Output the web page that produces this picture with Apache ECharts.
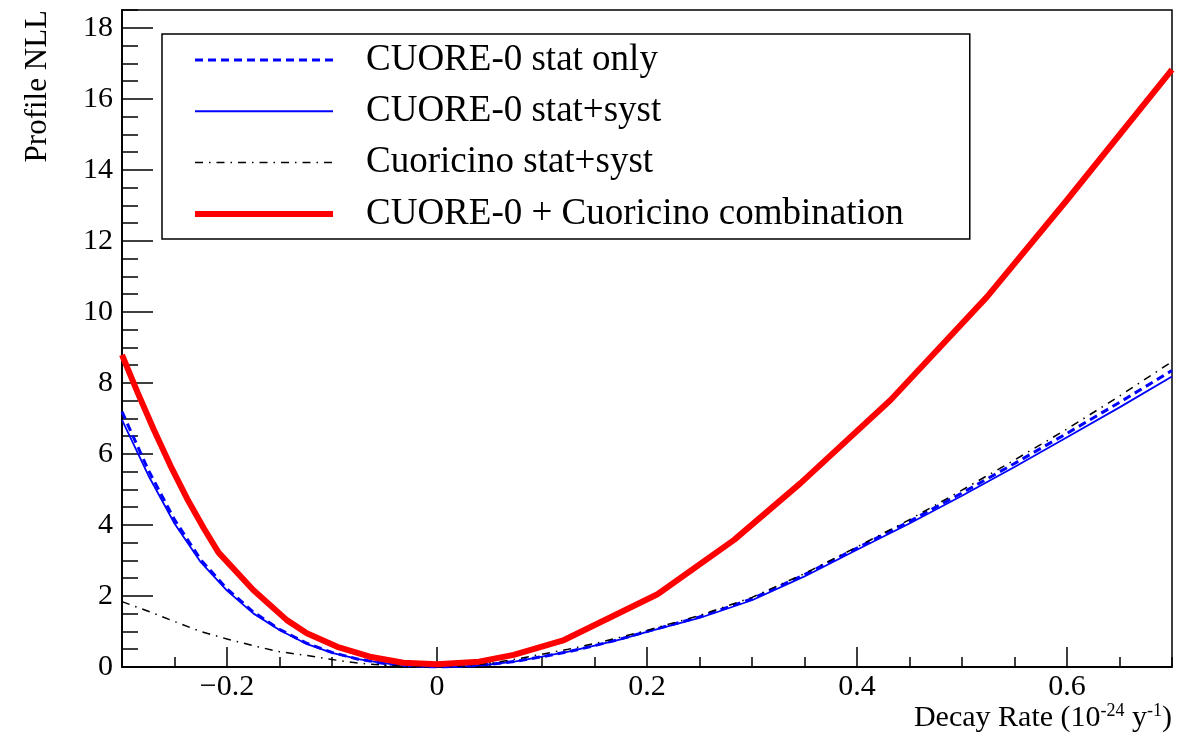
<!DOCTYPE html>
<html><head><meta charset="utf-8">
<script src="https://cdn.jsdelivr.net/npm/echarts@6/dist/echarts.min.js"></script>
<style>html,body{margin:0;padding:0;background:#fff}#c{width:1201px;height:736px}</style>
</head><body><div id="c"></div>
<script>
// ---- data ----
const seriesNames = ['CUORE-0 stat only', 'CUORE-0 stat+syst', 'Cuoricino stat+syst', 'CUORE-0 + Cuoricino combination'];
const xGrid = [-0.3,-0.275,-0.25,-0.225,-0.2,-0.175,-0.15,-0.125,-0.1,-0.075,-0.05,-0.025,0,0.025,0.05,0.075,0.1,0.125,0.15,0.175,0.2,0.25,0.3,0.35,0.4,0.45,0.5,0.55,0.6,0.65,0.7];
const statOnly = [7.19,5.55,4.15,3.02,2.2,1.55,1.06,0.68,0.41,0.22,0.1,0.03,0.0,0.02,0.07,0.16,0.29,0.43,0.6,0.79,1.0,1.41,1.92,2.6,3.35,4.1,4.9,5.73,6.58,7.45,8.35];
const statSyst = [6.96,5.4,4.04,2.95,2.15,1.51,1.04,0.66,0.4,0.22,0.1,0.04,0.0,0.02,0.07,0.16,0.29,0.43,0.6,0.78,0.99,1.38,1.88,2.55,3.3,4.04,4.82,5.63,6.47,7.31,8.18];
const cuoricino = [1.84,1.57,1.28,1.0,0.79,0.6,0.43,0.33,0.21,0.11,0.05,0.01,0.0,0.03,0.1,0.22,0.36,0.5,0.66,0.84,1.03,1.45,1.96,2.63,3.38,4.15,4.98,5.83,6.7,7.63,8.6];
const comboX = [-0.3,-0.285,-0.27,-0.254,-0.238,-0.222,-0.208,-0.175,-0.143,-0.124,-0.095,-0.064,-0.032,0,0.04,0.073,0.121,0.21,0.283,0.346,0.432,0.524,0.6,0.7];
const comboY = [8.79,7.72,6.7,5.68,4.74,3.9,3.22,2.17,1.32,0.95,0.57,0.29,0.12,0.08,0.15,0.34,0.76,2.05,3.58,5.17,7.52,10.43,13.15,16.82];

const FONT = 'Liberation Serif';
const pairs = (xs, ys) => xs.map((x, i) => [x, ys[i]]);
const fmtX = v => { const a = +Math.abs(v).toFixed(2); return (v < -1e-9 ? '\u2212' : '') + a; };

const chart = echarts.init(document.getElementById('c'), null, {renderer: 'canvas'});
const axisLine = {show: true, onZero: false, lineStyle: {color: '#000', width: 1.5}};
const hiddenSymbol = {color: 'rgba(0,0,0,0)', borderWidth: 0, opacity: 0};
chart.setOption({
  animation: false,
  backgroundColor: '#fff',
  title: {
    text: '{a|Decay Rate (10}{s|-24}{a| y}{s|-1}{a|)}',
    right: 29, top: 702, padding: 0, itemGap: 0,
    textStyle: {fontFamily: FONT, fontWeight: 'normal', fontSize: 30, color: '#000',
      rich: {a: {fontFamily: FONT, fontWeight: 'normal', fontSize: 30, color: '#000', lineHeight: 32},
             s: {fontFamily: FONT, fontWeight: 'normal', fontSize: 18, color: '#000', lineHeight: 20, verticalAlign: 'top'}}}
  },
  grid: {left: 122, top: 10, width: 1050, height: 657, containLabel: false, outerBoundsMode: 'none',
         show: true, borderColor: '#000', borderWidth: 1.5, backgroundColor: 'transparent'},
  xAxis: [
    {type: 'value', min: -0.3, max: 0.7, interval: 0.05, position: 'bottom',
     axisLine: axisLine, axisTick: {show: true, inside: true, length: 10, lineStyle: {color: '#000', width: 1.5}},
     axisLabel: {show: false}, splitLine: {show: false}},
    {type: 'value', min: -0.3, max: 0.7, splitNumber: 5, position: 'bottom',
     axisLine: axisLine, axisTick: {show: true, inside: true, length: 20, lineStyle: {color: '#000', width: 1.5}},
     axisLabel: {show: true, showMinLabel: false, showMaxLabel: false, margin: 5, formatter: fmtX,
                 fontFamily: FONT, fontSize: 30, color: '#000'},
     splitLine: {show: false}}
  ],
  yAxis: [
    {type: 'value', min: 0, max: 18.5, interval: 0.5, position: 'left',
     axisLine: axisLine, axisTick: {show: true, inside: true, length: 16, lineStyle: {color: '#000', width: 1.5}},
     axisLabel: {show: false}, splitLine: {show: false}},
    {type: 'value', min: 0, max: 18.5, interval: 2, position: 'left',
     axisLine: axisLine, axisTick: {show: true, inside: true, length: 31, lineStyle: {color: '#000', width: 1.5}},
     axisLabel: {show: true, showMaxLabel: false, margin: 9, fontFamily: FONT, fontSize: 30, color: '#000'},
     splitLine: {show: false},
     name: 'Profile NLL', nameLocation: 'end', nameGap: 0, nameRotate: 90,
     nameTextStyle: {align: 'right', verticalAlign: 'bottom', padding: [0, 0, 69, 0], fontFamily: FONT, fontSize: 31, color: '#000'}}
  ],
  legend: {
    show: true, orient: 'vertical', left: 162, top: 34, itemWidth: 138, itemHeight: 40, itemGap: 11.3,
    padding: [6, 66, 5, 30], backgroundColor: '#fff', borderColor: '#000', borderWidth: 1.5, borderRadius: 0,
    selectedMode: false, itemStyle: hiddenSymbol,
    textStyle: {fontFamily: FONT, fontSize: 37, color: '#000', lineHeight: 40, padding: [0, 0, 0, 28]},
    data: [
      {name: seriesNames[0], lineStyle: {width: 3}, itemStyle: hiddenSymbol},
      {name: seriesNames[1], lineStyle: {width: 2}, itemStyle: hiddenSymbol},
      {name: seriesNames[2], lineStyle: {width: 1.5}, itemStyle: hiddenSymbol},
      {name: seriesNames[3], lineStyle: {width: 6}, itemStyle: hiddenSymbol}
    ]
  },
  series: [
    {name: seriesNames[0], type: 'line', symbol: 'none', data: pairs(xGrid, statOnly),
     lineStyle: {color: '#0000ff', width: 3, type: [8, 5]}, itemStyle: {color: '#0000ff'}, z: 2},
    {name: seriesNames[1], type: 'line', symbol: 'none', data: pairs(xGrid, statSyst),
     lineStyle: {color: '#0000ff', width: 1.8, type: 'solid'}, itemStyle: {color: '#0000ff'}, z: 3},
    {name: seriesNames[2], type: 'line', symbol: 'none', data: pairs(xGrid, cuoricino),
     lineStyle: {color: '#000', width: 1.5, type: [8, 6, 1.5, 6]}, itemStyle: {color: '#000'}, z: 4},
    {name: seriesNames[3], type: 'line', symbol: 'none', data: pairs(comboX, comboY),
     lineStyle: {color: '#ff0000', width: 6, type: 'solid'}, itemStyle: {color: '#ff0000'}, z: 5}
  ]
});
</script></body></html>
